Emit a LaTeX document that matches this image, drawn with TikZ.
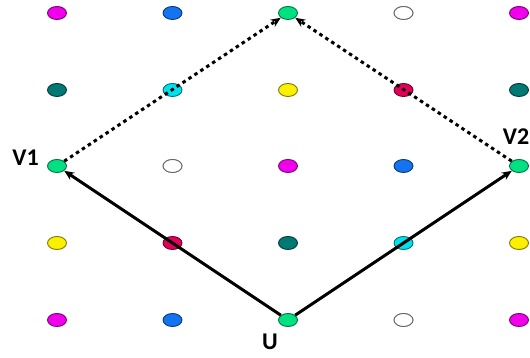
\documentclass[tikz,border=0pt]{standalone}
\usepackage{fontspec}
\setmainfont{Carlito}
\usetikzlibrary{positioning,arrows.meta,shapes.geometric}
\definecolor{dmag}{RGB}{240,0,235}
\definecolor{dblu}{RGB}{20,115,240}
\definecolor{dgrn}{RGB}{0,225,130}
\definecolor{dwht}{RGB}{255,255,255}
\definecolor{dtea}{RGB}{0,120,115}
\definecolor{dcya}{RGB}{0,225,235}
\definecolor{dyel}{RGB}{250,240,0}
\definecolor{dred}{RGB}{225,0,90}
\tikzset{
  pt/.style={ellipse, draw=#1!50!black, fill=#1, line width=0.9pt,
             minimum width=19pt, minimum height=13pt, inner sep=0pt},
  lbl/.style={font=\fontsize{24}{26}\selectfont\bfseries, inner sep=0pt},
  vec/.style={-{Stealth[length=10pt,width=8.5pt]}, line width=3pt},
  vecdot/.style={vec, dash pattern=on 3.5pt off 3.6pt},
}
\begin{document}
\begin{tikzpicture}[x=1pt, y=1pt]
  \useasboundingbox[fill=white] (0,0) rectangle (530,358);
  % lattice of points, one row at a time
  \foreach \c [count=\i] in {dmag,dblu,dgrn,dwht,dmag}
    \node[pt=\c] (a\i) at ({57+115.5*(\i-1)},345) {};
  \foreach \c [count=\i] in {dtea,dcya,dyel,dred,dtea}
    \node[pt=\c] (b\i) at ({57+115.5*(\i-1)},268) {};
  \foreach \c [count=\i] in {dgrn,dwht,dmag,dblu,dgrn}
    \node[pt=\c] (c\i) at ({57+115.5*(\i-1)},192) {};
  \foreach \c [count=\i] in {dyel,dred,dtea,dcya,dyel}
    \node[pt=\c] (d\i) at ({57+115.5*(\i-1)},115) {};
  \foreach \c [count=\i] in {dmag,dblu,dgrn,dwht,dmag}
    \node[pt=\c] (e\i) at ({57+115.5*(\i-1)},38) {};
  \node[pt=dwht, draw=black!60] at (c2) {};
  \node[pt=dwht, draw=black!60] at (a4) {};
  \node[pt=dwht, draw=black!60] at (e4) {};

  \node[lbl, left=8pt of c1, yshift=8.5pt] (v1) {V1};
  \node[lbl, above=14pt of c5, xshift=-3pt] (v2) {V2};
  \node[lbl, below=7pt of e3, xshift=-18pt] (u) {U};

  \draw[vec] (e3) -- (c1);
  \draw[vec] (e3) -- (c5);
  \draw[vecdot] (c1) -- (a3);
  \draw[vecdot] (c5) -- (a3);
\end{tikzpicture}
\end{document}
